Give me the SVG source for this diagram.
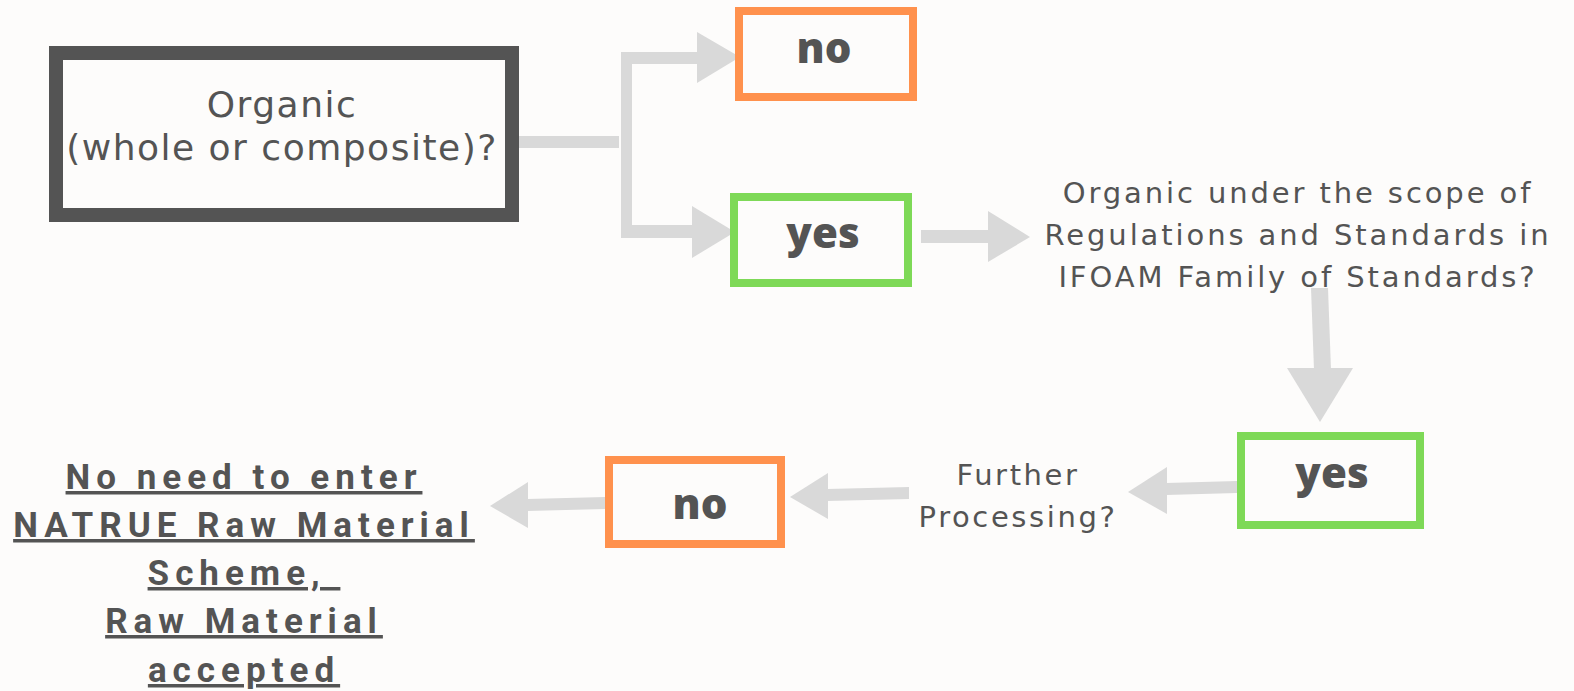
<svg xmlns="http://www.w3.org/2000/svg" width="1574" height="691" viewBox="0 0 1574 691">
<style>
.bg{fill:#fdfcfb}
.arr{fill:#d9d9d9}
.main{fill:none;stroke:#545454;stroke-width:14}
.no{fill:none;stroke:#ff914d;stroke-width:8}
.yes{fill:none;stroke:#7ed957;stroke-width:8}
.t1{font-family:"DejaVu Sans","Noto Sans",sans-serif;font-size:36px;fill:#545454;text-anchor:middle;letter-spacing:1.5px}
.lbl{font-family:"Open Sans","Noto Sans",sans-serif;font-weight:800;font-size:42px;fill:#545454;text-anchor:middle}
.q{font-family:"DejaVu Sans","Noto Sans",sans-serif;font-size:29px;fill:#545454;text-anchor:middle;letter-spacing:2.9px}
.q2{font-family:"DejaVu Sans","Noto Sans",sans-serif;font-size:29px;fill:#545454;text-anchor:middle;letter-spacing:2.6px}
.res{font-family:Roboto,"Noto Sans",sans-serif;font-weight:bold;font-size:35px;fill:#545454;text-anchor:middle;letter-spacing:6px;text-decoration:underline}
</style>
<rect class="bg" x="0" y="0" width="1574" height="691"/>
<g id="connectors">
  <rect class="arr" x="519" y="136" width="100" height="12"/>
  <rect class="arr" x="621" y="54" width="11" height="183"/>
  <rect class="arr" x="621" y="52" width="77" height="12"/>
  <polygon class="arr" points="697,32 740,57 697,83"/>
  <rect class="arr" x="621" y="225" width="72" height="13"/>
  <polygon class="arr" points="692,206 735,232 692,258"/>
  <rect class="arr" x="921" y="230" width="68" height="13"/>
  <polygon class="arr" points="988,211 1030,237 988,262"/>
  <polygon class="arr" points="1311,288 1328,288 1331,370 1314,370"/>
  <polygon class="arr" points="1287,368 1353,368 1320,422"/>
  <polygon class="arr" points="1237,481 1237,493 1166,495 1166,483"/>
  <polygon class="arr" points="1167,467 1167,514 1128,492"/>
  <polygon class="arr" points="909,487 909,499 827,501 827,489"/>
  <polygon class="arr" points="828,473 828,519 790,497"/>
  <polygon class="arr" points="605,497 605,509 527,511 527,499"/>
  <polygon class="arr" points="528,482 528,528 490,506"/>
</g>
<g id="n_organic">
  <rect class="main" x="56" y="53" width="456" height="162"/>
  <text class="t1" x="282" y="117">Organic</text>
  <text class="t1" x="282" y="160">(whole or composite)?</text>
</g>
<g id="n_no1">
  <rect class="no" x="739" y="11" width="174" height="86"/>
  <text class="lbl" x="824" y="63">no</text>
</g>
<g id="n_yes1">
  <rect class="yes" x="734" y="197" width="174" height="86"/>
  <text class="lbl" x="823" y="248">yes</text>
</g>
<g id="n_scope">
  <text class="q" x="1298" y="203">Organic under the scope of</text>
  <text class="q" x="1298" y="245">Regulations and Standards in</text>
  <text class="q" x="1298" y="287">IFOAM Family of Standards?</text>
</g>
<g id="n_yes2">
  <rect class="yes" x="1241" y="436" width="179" height="89"/>
  <text class="lbl" x="1332" y="488">yes</text>
</g>
<g id="n_further">
  <text class="q2" x="1018" y="485">Further</text>
  <text class="q2" x="1018" y="527">Processing?</text>
</g>
<g id="n_no2">
  <rect class="no" x="609" y="460" width="172" height="84"/>
  <text class="lbl" x="700" y="519">no</text>
</g>
<g id="n_result">
  <text class="res" x="244" y="489">No need to enter</text>
  <text class="res" x="244" y="537">NATRUE Raw Material</text>
  <text class="res" x="244" y="585" xml:space="preserve">Scheme, </text>
  <text class="res" x="244" y="633">Raw Material</text>
  <text class="res" x="244" y="682">accepted</text>
</g>
</svg>
